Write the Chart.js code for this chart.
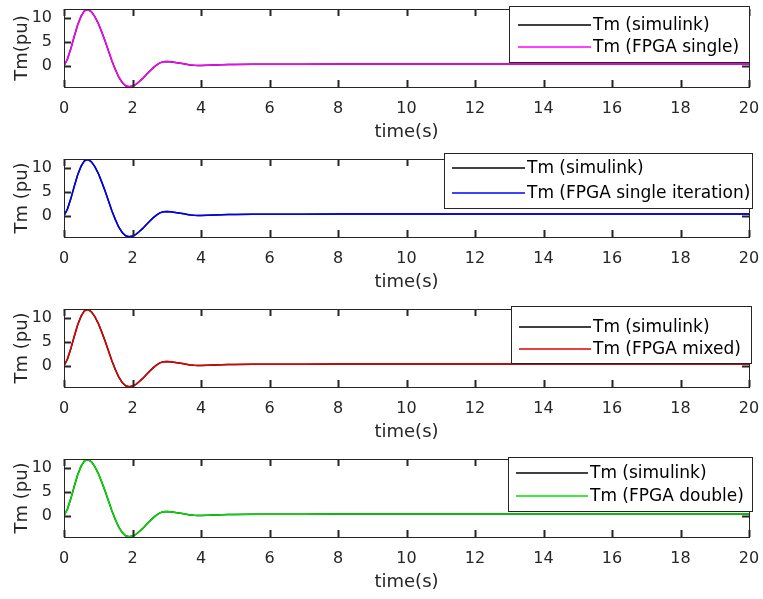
<!DOCTYPE html>
<html>
<head>
<meta charset="utf-8">
<script src="https://cdn.jsdelivr.net/npm/chart.js@4.4.1/dist/chart.umd.min.js"></script>
<style>
    body { margin: 0; background: #fff; width: 763px; height: 599px; overflow: hidden; }
    .panel { position: absolute; left: 0; width: 763px; height: 150px; }
</style>
</head>
<body>
<div class="panel" style="top:0"><canvas id="tm1" width="763" height="150"></canvas></div>
<div class="panel" style="top:150px"><canvas id="tm2" width="763" height="150"></canvas></div>
<div class="panel" style="top:300px"><canvas id="tm3" width="763" height="150"></canvas></div>
<div class="panel" style="top:450px"><canvas id="tm4" width="763" height="150"></canvas></div>
<script>
// time axis (s)
const time = [0, 0.1, 0.2, 0.3, 0.4, 0.5, 0.6, 0.7, 0.8, 0.9,
    1.0, 1.1, 1.2, 1.3, 1.4, 1.5, 1.6, 1.7, 1.8, 1.9,
    2.0, 2.1, 2.2, 2.3, 2.4, 2.5, 2.6, 2.7, 2.8, 2.9,
    3.0, 3.1, 3.2, 3.3, 3.4, 3.5, 3.6, 3.7, 3.8, 3.9,
    4.0, 4.2, 4.4, 4.6, 4.8, 5.0, 5.5, 6, 7, 8, 10, 12, 14, 16, 18, 20];

// Tm (pu), simulink reference
const tmSimulink = [0, 1.4, 3.6, 6.2, 8.6, 10.4, 11.55, 11.8, 11.3, 10.3,
    8.9, 7.1, 5.2, 3.1, 1.0, -0.8, -2.4, -3.5, -4.2, -4.4,
    -4.25, -3.9, -3.3, -2.65, -1.9, -1.15, -0.45, 0.15, 0.6, 0.85,
    0.88, 0.84, 0.76, 0.65, 0.53, 0.40, 0.28, 0.17, 0.10, 0.06,
    0.07, 0.12, 0.18, 0.22, 0.25, 0.27, 0.30, 0.32, 0.34, 0.35, 0.36, 0.36, 0.37, 0.37, 0.37, 0.37];

// FPGA runs sit right on top of the simulink trace in every panel
const tmFpgaSingle = tmSimulink.slice();
const tmFpgaSingleIter = tmSimulink.slice();
const tmFpgaMixed = tmSimulink.slice();
const tmFpgaDouble = tmSimulink.slice();

const xTicks = [0, 2, 4, 6, 8, 10, 12, 14, 16, 18, 20];
const yTicks = [0, 5, 10];

const axisColor = '#262626';
const fontFamily = '"DejaVu Sans", sans-serif';

// draws the matlab style box with inward ticks on all four sides
const axesBox = {
    id: 'axesBox',
    afterDatasetsDraw(chart) {
        const { ctx, chartArea: a, scales: { x, y } } = chart;
        ctx.save();
        ctx.strokeStyle = axisColor;
        ctx.lineWidth = 1;
        ctx.strokeRect(a.left + 0.5, a.top + 0.5, a.right - a.left, a.bottom - a.top);
        ctx.lineWidth = 2;
        ctx.beginPath();
        xTicks.forEach(v => {
            const px = Math.round(x.getPixelForValue(v)) + 0.5;
            ctx.moveTo(px, a.bottom); ctx.lineTo(px, a.bottom - 7);
            ctx.moveTo(px, a.top); ctx.lineTo(px, a.top + 7);
        });
        yTicks.forEach(v => {
            const py = Math.round(y.getPixelForValue(v)) + 0.5;
            ctx.moveTo(a.left, py); ctx.lineTo(a.left + 7, py);
            ctx.moveTo(a.right, py); ctx.lineTo(a.right - 7, py);
        });
        ctx.stroke();
        ctx.restore();
    }
};

// boxed legend in the upper right corner
const boxLegend = {
    id: 'boxLegend',
    afterDraw(chart, args, opts) {
        const { ctx } = chart;
        ctx.save();
        ctx.fillStyle = '#fff';
        ctx.fillRect(opts.x, opts.y, opts.w, opts.h);
        ctx.strokeStyle = axisColor;
        ctx.lineWidth = 1;
        ctx.strokeRect(opts.x + 0.5, opts.y + 0.5, opts.w, opts.h);
        ctx.font = '17px ' + fontFamily;
        ctx.textBaseline = 'middle';
        ctx.textAlign = 'left';
        chart.data.datasets.forEach((ds, i) => {
            const rowY = opts.rows[i];
            ctx.strokeStyle = ds.borderColor;
            ctx.lineWidth = 1.5;
            ctx.beginPath();
            ctx.moveTo(opts.lineX1, rowY);
            ctx.lineTo(opts.lineX2, rowY);
            ctx.stroke();
            ctx.fillStyle = '#000';
            ctx.fillText(ds.label, opts.lineX2 + 2, rowY + 1);
        });
        ctx.restore();
    }
};

function makeChart(id, fpgaLabel, fpgaColor, fpgaData, yTitle, legendBox) {
    const ctx = document.getElementById(id).getContext('2d');
    return new Chart(ctx, {
        type: 'line',
        data: {
            datasets: [{
                label: 'Tm (simulink)',
                data: time.map((t, i) => ({ x: t, y: tmSimulink[i] })),
                borderColor: '#000000',
                order: 1
            }, {
                label: fpgaLabel,
                data: time.map((t, i) => ({ x: t, y: fpgaData[i] })),
                borderColor: fpgaColor,
                order: 0
            }]
        },
        options: {
            responsive: false,
            animation: false,
            layout: { padding: { top: 9, right: 14, left: 0, bottom: 0 } },
            elements: {
                point: { radius: 0 },
                line: { borderWidth: 1.5, tension: 0 }
            },
            plugins: {
                legend: { display: false },
                tooltip: { enabled: false },
                boxLegend: legendBox
            },
            scales: {
                x: {
                    type: 'linear',
                    min: 0,
                    max: 20,
                    afterBuildTicks: s => { s.ticks = xTicks.map(v => ({ value: v })); },
                    afterFit: s => { s.height = 63; s.paddingLeft = 0; s.paddingRight = 0; },
                    grid: { display: false },
                    border: { display: false },
                    ticks: { color: axisColor, font: { family: fontFamily, size: 16 }, padding: 4, maxRotation: 0, autoSkip: false },
                    title: {
                        display: true,
                        text: 'time(s)',
                        color: axisColor,
                        font: { family: fontFamily, size: 18 },
                        padding: { top: 0, bottom: 7 }
                    }
                },
                y: {
                    min: -4.45,
                    max: 11.9,
                    afterBuildTicks: s => { s.ticks = yTicks.map(v => ({ value: v })); },
                    afterFit: s => { s.width = 64; s.paddingTop = 0; s.paddingBottom = 0; },
                    grid: { display: false },
                    border: { display: false },
                    ticks: { color: axisColor, font: { family: fontFamily, size: 16 }, padding: 4 },
                    title: {
                        display: true,
                        text: yTitle,
                        color: axisColor,
                        font: { family: fontFamily, size: 18 },
                        padding: { top: 11.5, bottom: 0 }
                    }
                }
            }
        },
        plugins: [axesBox, boxLegend]
    });
}

makeChart('tm1', 'Tm (FPGA single)', '#ff00ff', tmFpgaSingle, 'Tm(pu)',
    { x: 509, y: 6, w: 240, h: 56, lineX1: 518, lineX2: 591, rows: [25, 47] });
makeChart('tm2', 'Tm (FPGA single iteration)', '#0000ff', tmFpgaSingleIter, 'Tm (pu)',
    { x: 444, y: 3, w: 308, h: 55, lineX1: 452, lineX2: 525, rows: [18, 43] });
makeChart('tm3', 'Tm (FPGA mixed)', '#e00000', tmFpgaMixed, 'Tm (pu)',
    { x: 511, y: 6, w: 240, h: 57, lineX1: 519, lineX2: 591, rows: [27, 49] });
makeChart('tm4', 'Tm (FPGA double)', '#00e000', tmFpgaDouble, 'Tm (pu)',
    { x: 508, y: 7, w: 244, h: 54, lineX1: 516, lineX2: 588, rows: [23, 46] });
</script>
</body>
</html>
